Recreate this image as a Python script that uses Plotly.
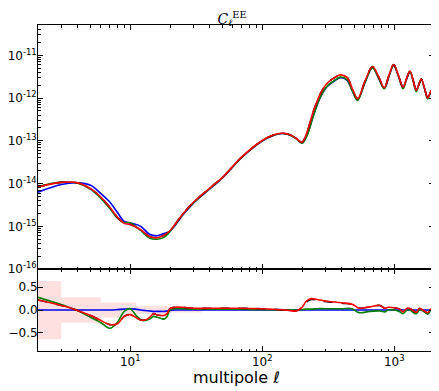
import plotly.graph_objects as go

# multipoles for the spectra panel
ell_top = [2, 3, 4, 5, 6, 7, 8, 9, 10, 12, 14, 16, 18, 20, 25, 30, 40, 50, 70, 100,
           120, 140, 160, 180, 200, 218, 245, 275, 309, 347, 390, 440, 480, 527, 600,
           684, 760, 840, 910, 989, 1075, 1165, 1240, 1316, 1390, 1468, 1535, 1603,
           1695, 1790, 1850, 1908, 2000]

cl_blue = [6.3e-15, 9.5e-15, 1.04e-14, 9.1e-15, 5.8e-15, 3.7e-15, 2.1e-15, 1.3e-15, 1.2e-15,
           1.0e-15, 6.5e-16, 6.0e-16, 6.8e-16, 7.7e-16, 1.85e-15, 3.45e-15, 7.5e-15, 1.36e-14,
           4.1e-14, 9.9e-14, 1.32e-13, 1.48e-13, 1.39e-13, 1.15e-13, 8.9e-14, 1.35e-13, 4.1e-13,
           1.04e-12, 1.85e-12, 2.45e-12, 3.0e-12, 2.6e-12, 1.5e-12, 9.2e-13, 2.35e-12, 5.2e-12,
           2.95e-12, 1.7e-12, 3.2e-12, 5.8e-12, 3.3e-12, 1.8e-12, 2.8e-12, 4.2e-12, 2.6e-12,
           1.55e-12, 2.05e-12, 2.75e-12, 1.7e-12, 1.05e-12, 1.2e-12, 1.48e-12, 1.1e-12]

cl_green = [8.5e-15, 1.08e-14, 1.02e-14, 7.3e-15, 4.5e-15, 2.6e-15, 1.55e-15, 1.22e-15, 1.22e-15,
            8.0e-16, 5.3e-16, 5.0e-16, 5.5e-16, 7.6e-16, 1.9e-15, 3.5e-15, 7.6e-15, 1.38e-14,
            4.15e-14, 1.0e-13, 1.33e-13, 1.48e-13, 1.39e-13, 1.14e-13, 8.8e-14, 1.3e-13, 4.0e-13,
            1.05e-12, 1.88e-12, 2.5e-12, 3.1e-12, 2.65e-12, 1.5e-12, 8.8e-13, 2.3e-12, 5.1e-12,
            2.95e-12, 1.65e-12, 3.2e-12, 5.8e-12, 3.3e-12, 1.65e-12, 2.8e-12, 4.2e-12, 2.5e-12,
            1.42e-12, 2.05e-12, 2.75e-12, 1.65e-12, 9.6e-13, 1.18e-12, 1.48e-12, 1.1e-12]

cl_red = [8.3e-15, 1.07e-14, 1.04e-14, 7.6e-15, 4.8e-15, 2.8e-15, 1.63e-15, 1.18e-15, 1.1e-15,
          8.3e-16, 5.8e-16, 5.4e-16, 6.2e-16, 7.9e-16, 1.95e-15, 3.6e-15, 7.8e-15, 1.4e-14,
          4.2e-14, 1.02e-13, 1.35e-13, 1.5e-13, 1.4e-13, 1.15e-13, 9.3e-14, 1.58e-13, 5.1e-13,
          1.26e-12, 2.2e-12, 2.9e-12, 3.5e-12, 3.0e-12, 1.7e-12, 9.7e-13, 2.5e-12, 5.5e-12,
          3.2e-12, 1.75e-12, 3.4e-12, 6.1e-12, 3.4e-12, 1.8e-12, 2.9e-12, 4.3e-12, 2.6e-12,
          1.5e-12, 2.1e-12, 2.8e-12, 1.7e-12, 1.0e-12, 1.2e-12, 1.5e-12, 1.1e-12]

# multipoles for the residual panel
ell_res = [2, 3, 3.5, 3.9, 5, 6, 7, 8, 9, 10, 11, 12, 13, 14, 15, 16, 17, 18, 19, 20, 22, 25,
           30, 57, 100, 150, 180, 200, 215, 235, 260, 300, 400, 480, 530, 560, 650, 780, 850,
           900, 1000, 1100, 1165, 1250, 1320, 1400, 1470, 1550, 1650, 1790, 1900, 2000]

res_blue = [0.0, 0.0, 0.0, 0.0, 0.0, 0.0, 0.0, 0.01, 0.02, 0.03, 0.02, 0.0, -0.01, -0.02, -0.03,
            -0.03, -0.03, -0.03, -0.02, -0.01, 0.0, 0.0, 0.0, 0.0, 0.0, 0.0, 0.0, 0.0, 0.0, 0.0,
            0.0, 0.0, 0.0, 0.0, 0.0, 0.0, 0.0, 0.0, 0.0, 0.0, 0.0, 0.0, 0.0, 0.0, 0.0, 0.0, 0.0,
            0.0, 0.0, 0.0, 0.0, 0.0]

res_green = [0.28, 0.12, 0.05, 0.0, -0.16, -0.28, -0.40, -0.27, -0.03, 0.03, -0.11, -0.21, -0.23,
             -0.20, -0.14, -0.16, -0.18, -0.20, -0.14, 0.0, 0.03, 0.03, 0.02, 0.02, 0.01, 0.0, 0.0,
             0.01, 0.02, 0.02, 0.03, 0.03, 0.03, 0.03, -0.05, -0.06, -0.03, -0.02, -0.04, 0.0, 0.0,
             -0.04, -0.08, 0.0, 0.0, -0.06, -0.08, 0.0, -0.02, -0.09, 0.0, -0.03]

res_red = [0.22, 0.10, 0.05, 0.0, -0.12, -0.23, -0.32, -0.30, -0.14, -0.10, -0.16, -0.22, -0.22,
           -0.16, -0.08, -0.11, -0.12, -0.12, -0.08, 0.03, 0.06, 0.06, 0.04, 0.04, 0.03, 0.0, -0.02,
           0.06, 0.19, 0.25, 0.23, 0.20, 0.16, 0.13, 0.05, 0.04, 0.07, 0.10, 0.04, 0.06, 0.05, 0.02,
           -0.04, 0.04, 0.03, -0.02, -0.05, 0.04, 0.0, -0.06, 0.02, -0.01]

res_black = [0.22, 0.10, 0.05, 0.0, -0.12, -0.23, -0.32, -0.30, -0.14, -0.10, -0.16, -0.22, -0.22,
             -0.16, -0.08, -0.11, -0.12, -0.12, -0.08, 0.03, 0.06, 0.06, 0.04, 0.04, 0.03, 0.0, -0.02,
             0.05, 0.17, 0.23, 0.22, 0.19, 0.15, 0.12, 0.05, 0.04, 0.07, 0.10, 0.04, 0.06, 0.05, 0.02,
             -0.04, 0.04, 0.03, -0.02, -0.05, 0.04, 0.0, -0.06, 0.02, -0.01]

# cosmic-variance-like error bins
bin_lo = [2, 3, 6, 11, 19]
bin_hi = [3, 6, 11, 19, 35]
bin_err = [0.64, 0.28, 0.165, 0.09, 0.055]

fig = go.Figure()

# shaded bins in residual panel
for lo, hi, err in zip(bin_lo, bin_hi, bin_err):
    fig.add_trace(go.Scatter(
        x=[lo, hi, hi, lo, lo], y=[-err, -err, err, err, -err],
        mode='lines', fill='toself', fillcolor='rgba(255,0,0,0.12)',
        line=dict(width=0), xaxis='x2', yaxis='y2', hoverinfo='skip'))

series = [
    (cl_blue, res_blue, '#0000ee', 'solid'),
    (cl_green, res_green, '#007f00', 'solid'),
    (cl_red, res_black, '#000000', 'dash'),
    (cl_red, res_red, '#ff0000', 'solid'),
]
for cl, res, col, dash in series:
    fig.add_trace(go.Scatter(x=ell_top, y=cl, mode='lines', line_shape='spline',
                             line=dict(color=col, width=1.6, dash=dash),
                             xaxis='x', yaxis='y'))
    fig.add_trace(go.Scatter(x=ell_res, y=res, mode='lines', line_shape='spline',
                             line=dict(color=col, width=1.6, dash=dash),
                             xaxis='x2', yaxis='y2'))

xminor = [k * 10 ** d for d in range(0, 4) for k in range(2, 10) if 2 < k * 10 ** d < 2000]
yminor = [k * 10.0 ** d for d in range(-16, -10) for k in range(2, 10)]

axis_common = dict(showgrid=False, zeroline=False, showline=True, linecolor='black',
                   linewidth=1, mirror='ticks', ticks='inside', ticklen=5, automargin=False,
                   tickcolor='black', tickfont=dict(family='DejaVu Sans', size=12, color='black'))

# page body adds an 8px margin, so the figure is 8px smaller than the window
split = 0.2513
fig.update_layout(
    width=431, height=383,
    margin=dict(l=30, r=5, t=17, b=40),
    plot_bgcolor='white', paper_bgcolor='white',
    showlegend=False,
    xaxis=dict(type='log', range=[0.30103, 3.30103], domain=[0, 1], anchor='y',
               tickvals=[10, 100, 1000], showticklabels=False,
               minor=dict(ticks='inside', ticklen=2.5, tickcolor='black', tickvals=xminor),
               **axis_common),
    yaxis=dict(type='log', range=[-16, -10.29], domain=[split, 1], anchor='x',
               tickvals=[1e-16, 1e-15, 1e-14, 1e-13, 1e-12, 1e-11],
               ticktext=['10<sup>-16</sup>', '10<sup>-15</sup>', '10<sup>-14</sup>',
                         '10<sup>-13</sup>', '10<sup>-12</sup>', '10<sup>-11</sup>'],
               ticklabelstandoff=-2,
               minor=dict(ticks='inside', ticklen=2.5, tickcolor='black', tickvals=yminor),
               **axis_common),
    xaxis2=dict(type='log', range=[0.30103, 3.30103], domain=[0, 1], anchor='y2',
                tickvals=[10, 100, 1000],
                ticktext=['10<sup>1</sup>', '10<sup>2</sup>', '10<sup>3</sup>'],
                minor=dict(ticks='inside', ticklen=2.5, tickcolor='black', tickvals=xminor),
                **axis_common),
    yaxis2=dict(range=[-0.9, 0.9], domain=[0, split], anchor='x2',
                tickvals=[-0.5, 0.0, 0.5], ticktext=['\u22120.5', '0.0', '0.5'],
                ticklabelstandoff=-3,
                **axis_common),
    title=dict(text='<i>C</i><sub><i>ℓ</i></sub><sup>EE</sup>', x=0.52, xanchor='center',
               y=0.985, yanchor='top', font=dict(family='DejaVu Serif', size=14, color='black')),
    annotations=[dict(text='multipole <i>ℓ</i>', xref='paper', yref='paper',
                      x=0.5, y=-0.08, xanchor='center', yanchor='middle', showarrow=False,
                      font=dict(family='DejaVu Sans', size=16, color='black'))],
)

fig.write_html("out.html")
